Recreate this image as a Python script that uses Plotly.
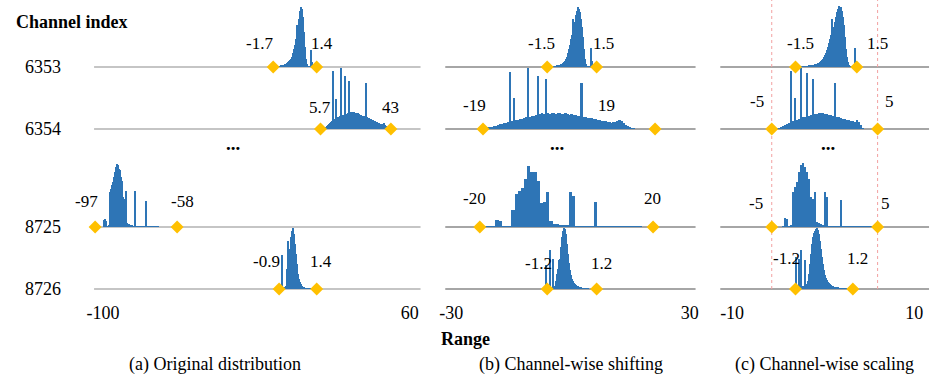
import plotly.graph_objects as go

# ---------------- data ----------------
CHANNELS = ["6353", "6354", "8725", "8726"]
PANEL_TITLES = ["(a) Original distribution", "(b) Channel-wise shifting", "(c) Channel-wise scaling"]
TICK_VALUES = [[-100, 60], [-30, 30], [-10, 10]]
TICK_LABELS = [["-100", "60"], ["-30", "30"], ["-10", "10"]]

# min / max labels per channel (text shown next to the diamonds)
LABELS_A = [["-1.7", "1.4"], ["5.7", "43"], ["-97", "-58"], ["-0.9", "1.4"]]
LABELS_B = [["-1.5", "1.5"], ["-19", "19"], ["-20", "20"], ["-1.2", "1.2"]]
LABELS_C = [["-1.5", "1.5"], ["-5", "5"], ["-5", "5"], ["-1.2", "1.2"]]

# schematic positions of the range ends on each panel's axis
ENDS_A = [[-11.2, 11.5], [13.5, 50.2], [-104.1, -61.3], [-8.1, 11.5]]
ENDS_B = [[-5.85, 6.6], [-22.0, 21.3], [-22.8, 20.8], [-5.85, 6.6]]
ENDS_C = [[-3.04, 3.7], [-5.65, 5.98], [-5.65, 5.98], [-3.04, 3.26]]

# histograms: first bin edge, bin width, bin heights (relative counts)
HIST_A_START = [-9.7, 15.1, -100.0, -7.1]
HIST_A_WIDTH = [0.52, 0.52, 0.52, 0.52]
HIST_A = [
    [0.5, 0.5, 1, 1, 1, 1.5, 2, 2, 2.5, 3, 3.5, 4, 5, 6, 7, 8, 10, 14, 18, 22, 28, 42, 30, 48, 56, 60,
     58, 50, 35, 20, 8, 3, 1, 0.5, 0.5, 17, 5, 0],
    [1, 1, 2, 3, 4, 5, 6, 7, 8, 58, 10, 10, 30, 11, 12, 12, 13, 61, 14, 14, 14, 53, 15, 15, 16, 48,
     16, 17, 17, 16, 17, 16, 16, 15, 16, 15, 14, 14, 13, 13, 13, 12, 46, 12, 11, 11, 10, 10, 9, 9, 8,
     8, 7, 7, 6, 6, 5, 5, 4, 5, 6, 4, 3, 2, 1, 0.5],
    [0, 7, 8, 6, 1, 1, 2, 35, 38, 42, 45, 50, 55, 60, 63, 62, 58, 57, 50, 46, 30, 28, 5, 36, 4, 3, 3,
     2, 2, 2, 1, 1, 36, 1, 1, 1, 1, 1, 1, 1, 1, 0.5, 0.5, 26, 0.5, 0.5, 0.5, 0.5, 0.5, 0.5, 0.5, 0.5,
     0.5, 0.5, 0.5, 0.5],
    [0, 34, 2, 1, 2, 3, 20, 48, 25, 40, 52, 58, 61, 55, 45, 35, 25, 15, 10, 7, 5, 3, 2, 2, 1, 1, 1,
     0.5, 0.5, 0.5],
]

HIST_B_START = [-4.86, -21.8, -22.8, -6.1]
HIST_B_WIDTH = [0.25, 0.5, 0.8, 0.25]
HIST_B = [
    [0.5, 0.5, 0.5, 1, 1, 1, 1.5, 2, 2, 2.5, 3, 3.5, 4, 5, 6, 8, 10, 14, 18, 22, 28, 32, 48, 38, 45,
     52, 56, 60, 58, 55, 48, 40, 30, 18, 8, 3, 1, 0.5, 0.5, 0.5, 19, 6, 0.5, 0, 0],
    [0.5, 1, 1.5, 2, 2.5, 3, 3.5, 4, 5, 5.5, 6, 6.5, 7, 57, 8, 31, 9, 9, 10, 10, 11, 12, 61, 12, 13,
     13, 14, 53, 15, 16, 15, 50, 16, 15, 16, 16, 15, 16, 16, 15, 15, 16, 15, 14, 15, 14, 14, 13, 13,
     46, 12, 12, 11, 11, 11, 10, 10, 9, 9, 8, 8, 8, 7, 7, 6, 7, 7, 8, 9, 8, 6, 4, 3, 2, 1, 0.5],
    [0.5, 0.5, 0.5, 0.5, 0.5, 7, 6, 1, 1, 1, 17, 33, 36, 39, 48, 61, 55, 55, 46, 24, 25, 35, 6, 3, 3,
     2, 2, 2, 35, 31, 1, 1, 1, 1, 1, 0.5, 25, 0.5, 0.5, 1, 0.5, 0.5, 1, 0.5, 0.5, 0.5, 0.5, 0.5, 0.5,
     0.5, 0.5],
    [24, 1, 1, 1, 39, 2, 2, 30, 3, 3, 8, 15, 20, 29, 30, 42, 52, 58, 61, 60, 55, 45, 35, 26, 19, 14,
     10, 8, 6, 5, 4, 3, 3, 2, 2, 1.5, 1, 1, 1, 0.5, 0.5, 0.5, 0.5, 0],
]

HIST_C_START = [-2.72, -5.11, -4.46, -3.04]
HIST_C_WIDTH = [0.11, 0.22, 0.22, 0.11]
HIST_C = [
    [0.5, 0.5, 0.5, 0.5, 0.5, 1, 1, 1, 1, 1, 1.5, 1.5, 2, 2, 2, 2.5, 3, 3, 3.5, 4, 4.5, 5, 6, 7, 8,
     10, 12, 14, 17, 20, 24, 28, 32, 48, 36, 40, 45, 50, 55, 58, 61, 58, 60, 56, 50, 42, 30, 18, 10,
     5, 2, 1, 0.5, 0.5, 0.5, 0.5, 19, 6, 0.5],
    [0.5, 1, 2, 3, 4, 5, 6, 58, 8, 31, 9, 10, 61, 12, 12, 56, 13, 14, 50, 15, 15, 16, 16, 16, 15, 15,
     14, 14, 13, 46, 12, 12, 11, 10, 10, 9, 9, 8, 8, 7, 9, 7, 4, 1],
    [1, 9, 8, 1, 2, 35, 40, 45, 55, 62, 64, 60, 55, 48, 30, 28, 35, 5, 4, 3, 2, 35, 30, 1, 1, 1, 1,
     1, 1, 27, 0.5, 0.5, 0.5, 0.5, 0.5, 0.5, 0.5, 0.5, 0.5, 0.5, 0.5, 0.5, 0.5, 0.5, 0.5, 0.5, 0.5],
    [32, 1, 1, 30, 2, 39, 2, 3, 3, 29, 4, 5, 8, 15, 25, 35, 45, 52, 56, 58, 60, 61, 59, 55, 48, 40,
     32, 25, 19, 14, 11, 9, 7, 6, 5, 4, 3.5, 3, 2.5, 2, 2, 1.5, 1.5, 1, 1, 1, 0.5, 0.5, 0.5, 0.5, 0.5],
]

# ---------------- layout / style ----------------
W, H = 936, 382
SERIF = "Liberation Serif, Times New Roman, serif"
BAR_COLOR = "#2e75b6"
DIAMOND_COLOR = "#ffc000"
ROW_BASE = [233, 171, 73, 11]            # baseline level of each channel row (y units = px)
PLOT_TOP_PX, PLOT_BOTTOM_PX = 0, 300
PANEL_PX = [(88, 418), (443, 696), (721, 932)]
PANEL_RANGE = [(-104.65, 65.68), (-31.49, 31.49), (-11.30, 11.63)]
LINE_STYLE = [("#8c8c8c", 1.2), ("#a6a6a6", 1.8), ("#a6a6a6", 1.8)]
LABEL_SHIFT = [
    [[(-14, 24), (5, 24)], [(-1, 22), (0, 22)], [(-9, 26), (5, 26)], [(-13, 28), (4, 28)]],
    [[(-6, 24), (7, 24)], [(-8, 24), (-49, 24)], [(-5, 29), (-1, 29)], [(-9, 26), (5, 26)]],
    [[(5, 24), (21, 24)], [(-15, 28), (12, 28)], [(-16, 24), (8, 24)], [(-9, 31), (5, 31)]],
]

HISTS = [(HIST_A_START, HIST_A_WIDTH, HIST_A), (HIST_B_START, HIST_B_WIDTH, HIST_B),
         (HIST_C_START, HIST_C_WIDTH, HIST_C)]
ENDS = [ENDS_A, ENDS_B, ENDS_C]
LABELS = [LABELS_A, LABELS_B, LABELS_C]
XNAMES = ["x", "x2", "x3"]


def px(xp):
    return xp / W


def py(yp):
    return 1 - yp / H


def text_font(size):
    return dict(family=SERIF, size=size, color="black")


fig = go.Figure()
shapes, annotations = [], []

for p in range(3):
    xa = XNAMES[p]
    starts, widths, hists = HISTS[p]
    lc, lw = LINE_STYLE[p]
    for r in range(4):
        base = ROW_BASE[r]
        shapes.append(dict(type="line", xref=f"{xa} domain", yref="y", x0=0, x1=1, y0=base, y1=base,
                           line=dict(color=lc, width=lw), layer="below"))
        w = widths[r]
        heights = hists[r]
        centers = [starts[r] + (i + 0.5) * w for i in range(len(heights))]
        fig.add_trace(go.Bar(x=centers, y=heights, base=[base] * len(heights), width=w,
                             marker=dict(color=BAR_COLOR, line=dict(width=0)),
                             xaxis=xa, yaxis="y", showlegend=False, hoverinfo="skip"))
    for r in range(4):
        base = ROW_BASE[r]
        fig.add_trace(go.Scatter(x=ENDS[p][r], y=[base, base], mode="markers", cliponaxis=False,
                                 marker=dict(symbol="diamond", size=10, color=DIAMOND_COLOR),
                                 xaxis=xa, yaxis="y", showlegend=False, hoverinfo="skip"))
        for k in range(2):
            dx, dy = LABEL_SHIFT[p][r][k]
            annotations.append(dict(x=ENDS[p][r][k], y=base, xref=xa, yref="y", text=LABELS[p][r][k],
                                    showarrow=False, xshift=dx, yshift=dy, xanchor="center",
                                    yanchor="middle", font=text_font(17)))

# red dotted guides in panel (c) at the scaled range limits
for xv in ENDS_C[1]:
    shapes.append(dict(type="line", xref="x3", yref="y", x0=xv, x1=xv, y0=ROW_BASE[3], y1=300,
                       line=dict(color="#f2a0a0", width=1, dash="dot"), layer="below"))

# row labels
for r, ch in enumerate(CHANNELS):
    annotations.append(dict(x=px(41), y=ROW_BASE[r], xref="paper", yref="y", text=ch, showarrow=False,
                            xanchor="center", yanchor="middle", xshift=-5, font=text_font(18)))
annotations.append(dict(x=px(7), y=py(22), xref="paper", yref="paper", text="<b>Channel index</b>",
                        xanchor="left", yanchor="middle", showarrow=False, font=text_font(18)))
annotations.append(dict(x=px(437), y=py(339), xref="paper", yref="paper", text="<b>Range</b>",
                        xanchor="left", yanchor="middle", showarrow=False, font=text_font(18)))
for xc in [228, 556, 830]:
    annotations.append(dict(x=px(xc), y=py(144), xref="paper", yref="paper", text="<b>...</b>",
                            xanchor="center", yanchor="middle", showarrow=False, font=text_font(19)))
for xc, t in zip([210, 570, 826], PANEL_TITLES):
    annotations.append(dict(x=px(xc), y=py(364), xref="paper", yref="paper", text=t,
                            xanchor="center", yanchor="middle", showarrow=False, font=text_font(18)))

layout_axes = {}
for p in range(3):
    key = "xaxis" if p == 0 else f"xaxis{p + 1}"
    x0p, x1p = PANEL_PX[p]
    layout_axes[key] = dict(domain=[px(x0p), px(x1p)], range=list(PANEL_RANGE[p]), anchor="y",
                            tickvals=TICK_VALUES[p], ticktext=TICK_LABELS[p], ticks="",
                            showgrid=False, zeroline=False, showline=False,
                            tickfont=text_font(18), fixedrange=True)

fig.update_layout(
    width=W, height=H, margin=dict(l=0, r=0, t=0, b=0),
    paper_bgcolor="white", plot_bgcolor="white",
    barmode="overlay", bargap=0,
    yaxis=dict(domain=[py(PLOT_BOTTOM_PX), py(PLOT_TOP_PX)], range=[0, 300], visible=False,
               fixedrange=True),
    shapes=shapes, annotations=annotations, showlegend=False,
    **layout_axes,
)

fig.write_html("out.html", config={"displayModeBar": False},
               post_script="document.body.style.margin='0';document.body.style.padding='0';")
